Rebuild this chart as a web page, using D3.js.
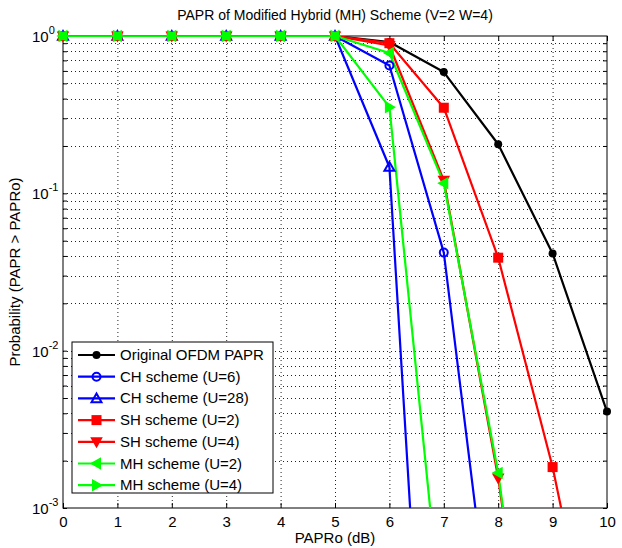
<!DOCTYPE html>
<html>
<head>
<meta charset="utf-8">
<script src="https://cdn.jsdelivr.net/npm/d3@7"></script>
<style>
  body { margin: 0; background: #fff; }
  svg { font-family: 'Liberation Sans', Arial, sans-serif; }
</style>
</head>
<body>
<svg id="chart" width="622" height="548"></svg>
<script>
const papro = [0, 1, 2, 3, 4, 5, 6, 7, 8, 9, 10];

// values; points below 1e-3 only steer the clipped line
const original = [1, 1, 1, 1, 1, 1, 0.915, 0.59, 0.205, 0.0415, 0.0041];
const chU6 = [1, 1, 1, 1, 1, 1, 0.65, 0.042, 0.000067];
const chU28 = [1, 1, 1, 1, 1, 1, 0.147, 0.0000003];
const shU2 = [1, 1, 1, 1, 1, 1, 0.9, 0.35, 0.039, 0.00182, 0.00004];
const shU4 = [1, 1, 1, 1, 1, 1, 0.87, 0.121, 0.00155, 0.000006];
const mhU2 = [1, 1, 1, 1, 1, 1, 0.78, 0.116, 0.00167, 0.000005];
const mhU4 = [1, 1, 1, 1, 1, 1, 0.353, 0.00014];

const yTicks = [1e-3, 1e-2, 1e-1, 1];
const yExp = ['-3', '-2', '-1', '0'];

const series = [
  { name: 'Original OFDM PAPR', values: original, color: '#000', marker: 'dot' },
  { name: 'CH scheme (U=6)', values: chU6, color: '#0000ff', marker: 'circle' },
  { name: 'CH scheme (U=28)', values: chU28, color: '#0000ff', marker: 'up' },
  { name: 'SH scheme (U=2)', values: shU2, color: '#ff0000', marker: 'square' },
  { name: 'SH scheme (U=4)', values: shU4, color: '#ff0000', marker: 'down' },
  { name: 'MH scheme (U=2)', values: mhU2, color: '#00ff00', marker: 'left' },
  { name: 'MH scheme (U=4)', values: mhU4, color: '#00ff00', marker: 'right' },
];

const margin = { top: 36, right: 15, bottom: 40, left: 63 };
const svg = d3.select('#chart');
const width = +svg.attr('width') - margin.left - margin.right;
const height = +svg.attr('height') - margin.top - margin.bottom;

const xScale = d3.scaleLinear().domain([0, 10]).range([0, width]);
const yScale = d3.scaleLog().domain([1e-3, 1]).range([height, 0]);

const canvas = svg.append('g')
  .attr('transform', `translate(${margin.left},${margin.top})`);

canvas.append('clipPath').attr('id', 'clip')
  .append('rect').attr('width', width).attr('height', height);

// minor log ticks 1..9 per decade
const minorY = [];
[-3, -2, -1].forEach((e) => {
  for (let m = 1; m <= 9; m++) minorY.push(m * Math.pow(10, e));
});

const grid = canvas.append('g').attr('class', 'grid')
  .attr('stroke', '#222').attr('stroke-width', 1).attr('stroke-dasharray', '1,3');
grid.selectAll('.gx').data(d3.range(1, 10)).enter().append('line')
  .attr('x1', d => xScale(d) + 0.5).attr('x2', d => xScale(d) + 0.5)
  .attr('y1', 0).attr('y2', height);
grid.selectAll('.gy').data(minorY.filter(d => d > 1e-3 * 1.01)).enter().append('line')
  .attr('x1', 0).attr('x2', width)
  .attr('y1', d => Math.round(yScale(d)) + 0.5).attr('y2', d => Math.round(yScale(d)) + 0.5);

// axes (inward ticks, box)
const xAxis = d3.axisBottom(xScale).ticks(10).tickSize(-5).tickPadding(8).tickFormat(d3.format('d'));
const gX = canvas.append('g').attr('transform', `translate(0,${height})`).call(xAxis);
gX.select('.domain').remove();
gX.selectAll('text').style('font-size', '15px').attr('fill', '#000');
gX.selectAll('line').attr('stroke', '#000');

canvas.append('g').call(d3.axisTop(xScale).ticks(10).tickSize(-5).tickFormat(''))
  .call(g => g.select('.domain').remove());

const yMinor = d3.axisLeft(yScale).tickValues(minorY).tickSize(-4).tickFormat('');
canvas.append('g').call(yMinor).call(g => g.select('.domain').remove());
canvas.append('g').attr('transform', `translate(${width},0)`)
  .call(d3.axisRight(yScale).tickValues(minorY).tickSize(-4).tickFormat(''))
  .call(g => g.select('.domain').remove());

canvas.append('rect').attr('width', width).attr('height', height)
  .attr('fill', 'none').attr('stroke', '#000').attr('stroke-width', 1);

const yLabels = canvas.append('g').selectAll('text').data(yTicks).enter().append('text')
  .attr('x', -31).attr('y', d => yScale(d) + 6)
  .attr('text-anchor', 'start').style('font-size', '15px');
yLabels.append('tspan').text('10');
yLabels.append('tspan').attr('dy', -8).style('font-size', '11px').text((d, i) => yExp[i]);

// lines
const line = d3.line().x((d, i) => xScale(papro[i])).y(d => yScale(d));
const lines = canvas.append('g').attr('clip-path', 'url(#clip)');
series.forEach((s) => {
  lines.append('path').datum(s.values)
    .attr('fill', 'none').attr('stroke', s.color).attr('stroke-width', 2.2)
    .attr('stroke-linejoin', 'round').attr('d', line);
});

const triPath = (dir, r) => {
  const pts = {
    up: [[0, -r], [r, r * 0.75], [-r, r * 0.75]],
    down: [[0, r], [r, -r * 0.75], [-r, -r * 0.75]],
    left: [[-r, 0], [r * 0.75, -r], [r * 0.75, r]],
    right: [[r, 0], [-r * 0.75, -r], [-r * 0.75, r]],
  }[dir];
  return 'M' + pts.map(p => p.join(',')).join('L') + 'Z';
};

const drawMarker = (g, type, color, x, y) => {
  const m = g.append('g').attr('transform', `translate(${x},${y})`);
  if (type === 'dot') {
    m.append('circle').attr('r', 4).attr('fill', color);
  } else if (type === 'circle') {
    m.append('circle').attr('r', 4).attr('fill', 'none').attr('stroke', color).attr('stroke-width', 2);
  } else if (type === 'square') {
    m.append('rect').attr('x', -5).attr('y', -5).attr('width', 10).attr('height', 10).attr('fill', color);
  } else if (type === 'up') {
    m.append('path').attr('d', triPath('up', 5)).attr('fill', 'none').attr('stroke', color).attr('stroke-width', 2);
  } else {
    m.append('path').attr('d', triPath(type, 5)).attr('fill', color).attr('stroke', color).attr('stroke-width', 1.5);
  }
};

const markers = canvas.append('g');
series.forEach((s) => {
  s.values.forEach((v, i) => {
    if (v >= 1e-3) drawMarker(markers, s.marker, s.color, xScale(papro[i]), yScale(v));
  });
});

// title and axis labels
svg.append('text').attr('x', margin.left + width / 2).attr('y', 20)
  .attr('text-anchor', 'middle').style('font-size', '14px')
  .text('PAPR of Modified Hybrid (MH) Scheme (V=2 W=4)');
svg.append('text').attr('x', margin.left + width / 2).attr('y', 543)
  .attr('text-anchor', 'middle').style('font-size', '15px').text('PAPRo (dB)');
svg.append('text').attr('transform', `translate(20,${margin.top + height / 2}) rotate(-90)`)
  .attr('text-anchor', 'middle').style('font-size', '15px').text('Probability (PAPR > PAPRo)');

// legend
const legend = svg.append('g').attr('transform', 'translate(72,342)');
legend.append('rect').attr('width', 201).attr('height', 151)
  .attr('fill', '#fff').attr('stroke', '#000').attr('stroke-width', 1);
series.forEach((s, i) => {
  const y = 13 + i * 21.7;
  legend.append('line').attr('x1', 6).attr('x2', 43).attr('y1', y).attr('y2', y)
    .attr('stroke', s.color).attr('stroke-width', 2.2);
  drawMarker(legend, s.marker, s.color, 24.5, y);
  legend.append('text').attr('x', 48).attr('y', y + 5).style('font-size', '15px').text(s.name);
});
</script>
</body>
</html>
